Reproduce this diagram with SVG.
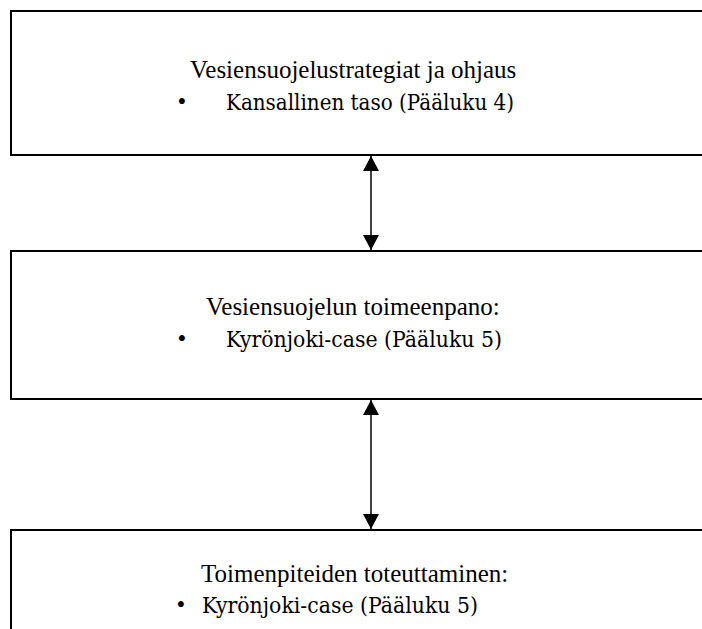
<svg xmlns="http://www.w3.org/2000/svg" width="702" height="629" viewBox="0 0 702 629">
<style>
.box{fill:#fff;stroke:#000;stroke-width:2}
.t{font-family:"Liberation Serif","Times New Roman",serif;font-size:25px;fill:#000}
.t2{font-family:"DejaVu Serif","Liberation Serif",serif;font-size:23px;fill:#000}
.conn{stroke:#000;stroke-width:1.5;fill:none}
</style>
<defs>
<marker id="ah" viewBox="0 0 15 16" refX="15" refY="8" markerWidth="15" markerHeight="16" markerUnits="userSpaceOnUse" orient="auto">
<path d="M0,0 L15,8 L0,16 Z" fill="#000"/>
</marker>
</defs>
<rect width="702" height="629" fill="#fff"/>
<g id="node1">
<rect class="box" x="11" y="11" width="700" height="144"/>
<text class="t" x="190" y="78">Vesiensuojelustrategiat ja ohjaus</text>
<text class="t" x="177.5" y="110">•</text>
<text class="t2" x="226" y="110" textLength="288" lengthAdjust="spacingAndGlyphs">Kansallinen taso (Pääluku 4)</text>
</g>
<g id="node2">
<rect class="box" x="11" y="251" width="700" height="148"/>
<text class="t" x="206" y="315">Vesiensuojelun toimeenpano:</text>
<text class="t" x="177.5" y="347">•</text>
<text class="t2" x="226" y="347" textLength="276" lengthAdjust="spacingAndGlyphs">Kyrönjoki-case (Pääluku 5)</text>
</g>
<g id="node3">
<rect class="box" x="11" y="530" width="700" height="120"/>
<text class="t" x="201" y="582">Toimenpiteiden toteuttaminen:</text>
<text class="t" x="176.5" y="613">•</text>
<text class="t2" x="202" y="613" textLength="276" lengthAdjust="spacingAndGlyphs">Kyrönjoki-case (Pääluku 5)</text>
</g>
<g id="connectors">
<line class="conn" x1="371" y1="203" x2="371" y2="156" marker-end="url(#ah)"/>
<line class="conn" x1="371" y1="203" x2="371" y2="250" marker-end="url(#ah)"/>
<line class="conn" x1="371" y1="465" x2="371" y2="400" marker-end="url(#ah)"/>
<line class="conn" x1="371" y1="465" x2="371" y2="529" marker-end="url(#ah)"/>
</g>
</svg>
